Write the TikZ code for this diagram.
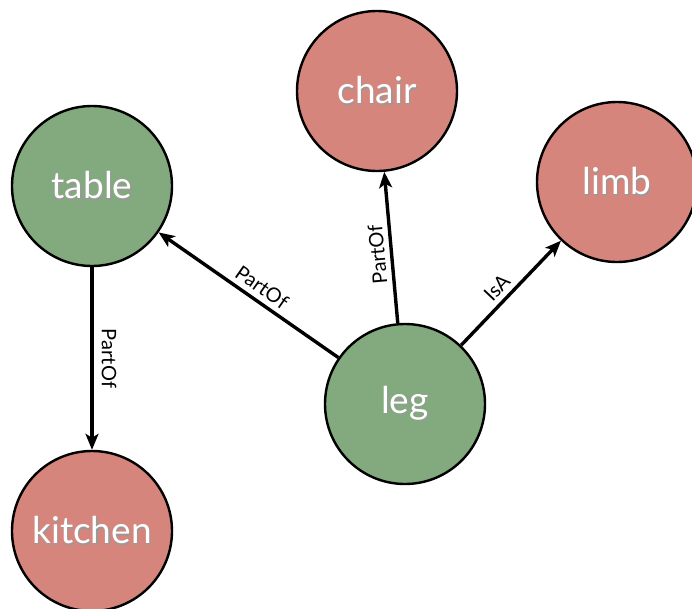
\documentclass[tikz,border=0pt]{standalone}
\usepackage{fontspec}
\setmainfont{Lato}
\usetikzlibrary{arrows.meta}
\definecolor{nodegreen}{RGB}{131,169,126}
\definecolor{nodered}{RGB}{214,133,124}
\newcommand\shtext[1]{\leavevmode\rlap{\hspace{1.2pt}\raisebox{-1.2pt}{\color{black!40}#1}}#1}
\tikzset{
  concept/.style={circle, draw=black, line width=2.4pt, minimum size=160pt, inner sep=0pt,
    text=white, font=\fontsize{37}{37}\selectfont},
  greennode/.style={concept, fill=nodegreen},
  rednode/.style={concept, fill=nodered},
  rel/.style={-{Stealth[length=16pt,width=13pt,inset=4pt]}, line width=3.4pt, black},
  rellabel/.style={font=\fontsize{20}{20}\selectfont, text=black, inner sep=5pt, anchor=south}
}
\begin{document}
\begin{tikzpicture}[x=1pt,y=-1pt]
\useasboundingbox (0,0) rectangle (692,608);
\node[rednode]   (chair)   at (377,91)  {\shtext{chair}};
\node[greennode] (table)   at (92,186)  {\shtext{table}};
\node[rednode]   (limb)    at (617,182) {\shtext{limb}};
\node[greennode] (leg)     at (405,404) {\shtext{leg}};
\node[rednode]   (kitchen) at (92,531)  {\shtext{kitchen}};
\draw[rel] (leg) -- node[rellabel, pos=0.47, rotate=-35] {PartOf} (table);
\draw[rel] (leg) -- node[rellabel, pos=0.46, rotate=95] {PartOf} (chair);
\draw[rel] (leg) -- node[rellabel, pos=0.46, rotate=46.4] {IsA} (limb);
\draw[rel] (table) -- node[rellabel, pos=0.5, rotate=-90, inner sep=8pt] {PartOf} (kitchen);
\end{tikzpicture}
\end{document}
